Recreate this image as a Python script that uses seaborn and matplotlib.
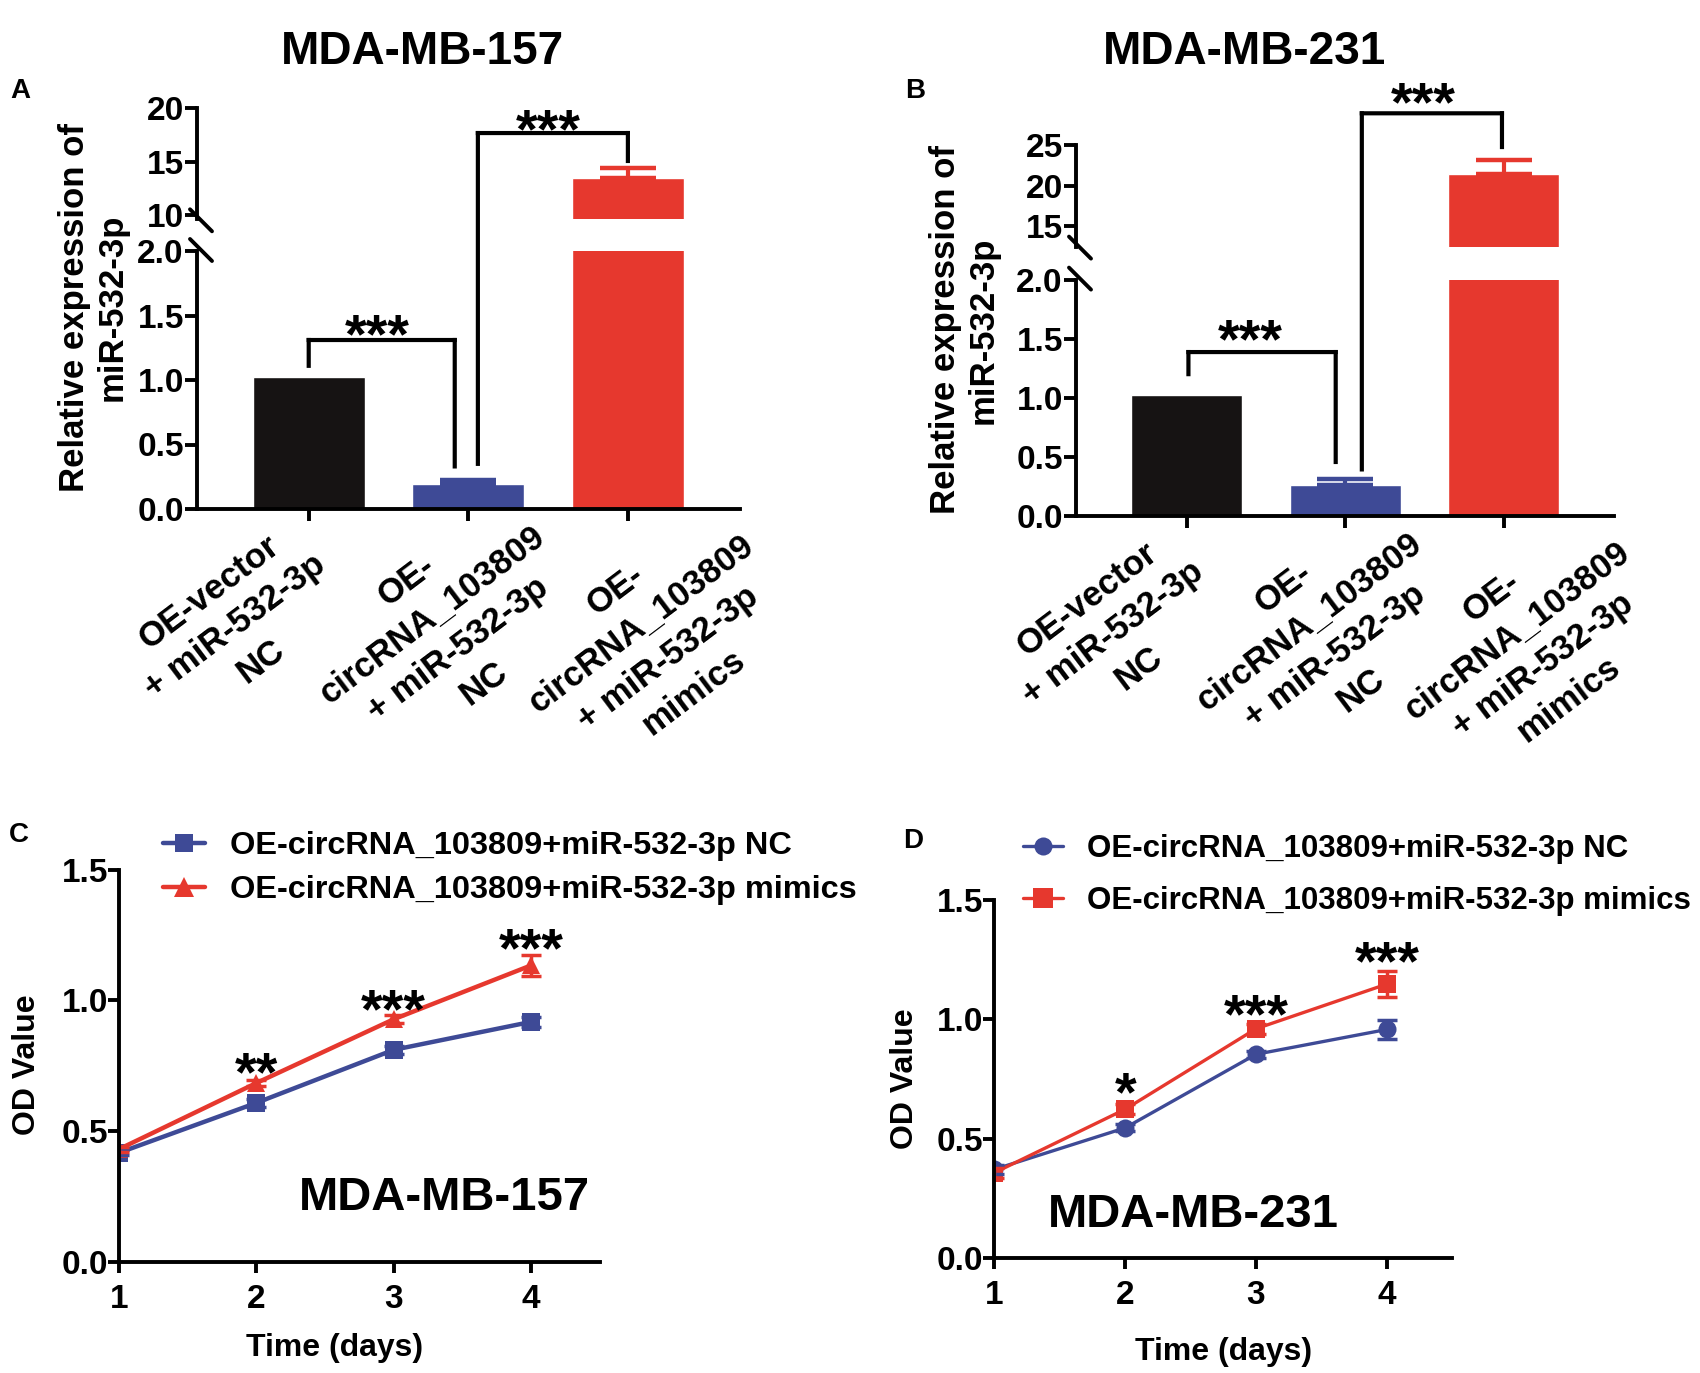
import matplotlib
matplotlib.use("Agg")
import matplotlib.pyplot as plt
import matplotlib.transforms as mtransforms
from matplotlib.lines import Line2D
from matplotlib.patches import ConnectionPatch
import pandas as pd
import seaborn as sns

# ---------------- data ----------------
groups = ["OE-vector\n+ miR-532-3p\nNC",
          "OE-\ncircRNA_103809\n+ miR-532-3p\nNC",
          "OE-\ncircRNA_103809\n+ miR-532-3p\nmimics"]
expr_157 = [1.02, 0.19, 13.5]
err_157 = [0.0, 0.035, 0.9]
expr_231 = [1.025, 0.266, 21.4]
err_231 = [0.0, 0.05, 1.8]

days = [1, 2, 3, 4]
series_labels = ["OE-circRNA_103809+miR-532-3p NC",
                 "OE-circRNA_103809+miR-532-3p mimics"]
od157_nc = [0.416, 0.607, 0.81, 0.917]
od157_nc_err = [0.01, 0.015, 0.015, 0.02]
od157_mim = [0.43, 0.683, 0.927, 1.133]
od157_mim_err = [0.01, 0.01, 0.015, 0.04]
od231_nc = [0.371, 0.545, 0.853, 0.957]
od231_nc_err = [0.02, 0.015, 0.015, 0.04]
od231_mim = [0.357, 0.623, 0.96, 1.147]
od231_mim_err = [0.02, 0.02, 0.02, 0.055]
stars_157 = ["**", "***", "***"]
stars_157_y = [0.757, 0.995, 1.23]
stars_231 = ["*", "***", "***"]
stars_231_y = [0.727, 1.054, 1.276]

# ---------------- style ----------------
sns.set_theme(style="ticks", rc={
    "axes.edgecolor": "black", "xtick.color": "black", "ytick.color": "black",
    "text.color": "black", "axes.labelcolor": "black"})
plt.rcParams["font.family"] = ["Liberation Sans", "DejaVu Sans"]
plt.rcParams["font.weight"] = "bold"

BLACK = "#161313"
BLUE = "#3e4a96"
RED = "#e6382e"
bar_colors = [BLACK, BLUE, RED]
LW = 2.8
TICKFS = 24
CATFS = 25
STARFS = 40

W, H = 1700, 1373
fig = plt.figure(figsize=(W / 100, H / 100), dpi=100)

# per-label pixel shifts (right, up) of the rotated category labels
cat_shifts = [(-23, 7), (37, 35), (87, 26)]


def fx(x):
    return x / W


def fy(y):
    return 1 - y / H


def add_ax(l, t, r, b):
    return fig.add_axes([l / W, 1 - b / H, (r - l) / W, (b - t) / H])


def cap_text(x, y, s, fs, transform, **kw):
    # place text so that the visual centre of capital letters sits at (x, y)
    fig.text(x, y, s, fontsize=fs, fontweight="bold", ha="center", va="baseline",
             transform=transform + mtransforms.ScaledTranslation(0, -0.358 * fs / 72, fig.dpi_scale_trans), **kw)


def stars(ax, x, y, s):
    tr = ax.transData + mtransforms.ScaledTranslation(0, -0.47 * STARFS / 72, fig.dpi_scale_trans)
    fig.text(x, y, s, transform=tr, ha="center", va="baseline", fontsize=STARFS,
             fontweight="bold")


def slash(xc, yc, d=11):
    fig.add_artist(Line2D([fx(xc - d), fx(xc + d)], [fy(yc - d), fy(yc + d)],
                          color="black", lw=LW, transform=fig.transFigure))


def fig_line(ax_a, xa, ya, ax_b, xb, yb, lw=3):
    con = ConnectionPatch(xyA=(xa, ya), coordsA=ax_a.transData,
                          xyB=(xb, yb), coordsB=ax_b.transData,
                          color="black", lw=lw, capstyle="projecting")
    fig.add_artist(con)


def bar_panel(l, r, t_up, b_up, t_lo, b_lo, values, errs, up_lim, up_ticks):
    df = pd.DataFrame({"group": groups, "value": values})
    ax_up = add_ax(l, t_up, r, b_up)
    ax_lo = add_ax(l, t_lo, r, b_lo)
    for ax in (ax_up, ax_lo):
        sns.barplot(data=df, x="group", y="value", hue="group", palette=bar_colors,
                    saturation=1, width=0.7, errorbar=None, legend=False, ax=ax)
        for i, (v, e, c) in enumerate(zip(values, errs, bar_colors)):
            if e > 0:
                ax.errorbar([i], [v], yerr=[[0], [e]], fmt="none", ecolor=c,
                            elinewidth=3, capsize=20, capthick=3.2)
        ax.set_xlim(-0.7, 2.7)
        ax.set_xlabel("")
        ax.set_ylabel("")
        for s in ("top", "right"):
            ax.spines[s].set_visible(False)
        for s in ("left", "bottom"):
            ax.spines[s].set_linewidth(LW)
        ax.patch.set_alpha(0)
        ax.tick_params(axis="both", width=LW, length=8.5, labelsize=TICKFS, pad=1)
    ax_up.spines["bottom"].set_visible(False)
    ax_up.tick_params(axis="x", bottom=False, labelbottom=False)
    ax_up.set_ylim(*up_lim)
    ax_up.set_yticks(up_ticks)
    ax_up.set_yticklabels([str(t) for t in up_ticks])
    ax_lo.set_ylim(0, 2.0)
    ax_lo.set_yticks([0, 0.5, 1.0, 1.5, 2.0])
    ax_lo.set_yticklabels(["0.0", "0.5", "1.0", "1.5", "2.0"])
    ax_lo.set_xticks([0, 1, 2])
    ax_lo.set_xticklabels(groups, rotation=37, ha="right", va="top",
                          rotation_mode="anchor", multialignment="center",
                          linespacing=1.38, fontsize=CATFS)
    ax_lo.tick_params(axis="x", pad=0)
    for lab, (dx, dy) in zip(ax_lo.get_xticklabels(), cat_shifts):
        off = mtransforms.ScaledTranslation(dx / 100, dy / 100, fig.dpi_scale_trans)
        lab.set_transform(lab.get_transform() + off)
    # axis break marks
    slash(l + 4, b_up + 1)
    slash(l + 4, t_lo - 1)
    return ax_up, ax_lo


def bracket(ax, x1, y1b, yh, x2, y2b):
    fig_line(ax, x1, y1b, ax, x1, yh)
    fig_line(ax, x1, yh, ax, x2, yh)
    fig_line(ax, x2, yh, ax, x2, y2b)


def bracket_cross(ax_lo, ax_up, x1, yb, yh, x2, y2b):
    fig_line(ax_lo, x1, yb, ax_up, x1, yh)
    fig_line(ax_up, x1, yh, ax_up, x2, yh)
    fig_line(ax_up, x2, yh, ax_up, x2, y2b)


# ---------------- Panel A ----------------
aA_up, aA_lo = bar_panel(197, 739.6, 108, 219.3, 251, 509, expr_157, err_157,
                         (9.6, 20), [10, 15, 20])
bracket(aA_lo, 0.0, 1.11, 1.31, 0.915, 0.33)
stars(aA_lo, 0.43, 1.418, "***")
bracket_cross(aA_lo, aA_up, 1.06, 0.35, 17.66, 2.0, 15.05)
stars(aA_up, 1.5, 18.8, "***")
cap_text(fx(422), fy(47.5), "MDA-MB-157", 33, fig.transFigure)
cap_text(fx(20.5), fy(88), "A", 20, fig.transFigure)
fig.text(fx(93.5), fy(307), "Relative expression of\nmiR-532-3p", rotation=90,
         ha="center", va="center", multialignment="center", fontsize=25, fontweight="bold")

# ---------------- Panel B ----------------
aB_up, aB_lo = bar_panel(1076, 1614.4, 145, 246.6, 279.6, 516, expr_231, err_231,
                         (12.5, 25), [15, 20, 25])
bracket(aB_lo, 0.01, 1.20, 1.387, 0.94, 0.457)
stars(aB_lo, 0.40, 1.56, "***")
bracket_cross(aB_lo, aB_up, 1.105, 0.394, 28.9, 1.99, 24.75)
stars(aB_up, 1.49, 31.26, "***")
cap_text(fx(1244), fy(47.5), "MDA-MB-231", 33, fig.transFigure)
cap_text(fx(915), fy(88), "B", 20, fig.transFigure)
fig.text(fx(964.5), fy(330), "Relative expression of\nmiR-532-3p", rotation=90,
         ha="center", va="center", multialignment="center", fontsize=25, fontweight="bold")


# ---------------- line panels ----------------
def line_panel(l, t, r, b, nc, nc_err, mim, mim_err, markers, lws, ms,
               st, st_y, cell, cell_xy, legend_xy, labelspacing, legfs):
    ax = add_ax(l, t, r, b)
    df = pd.DataFrame({
        "day": days + days,
        "od": nc + mim,
        "series": [series_labels[0]] * 4 + [series_labels[1]] * 4})
    pal = {series_labels[0]: BLUE, series_labels[1]: RED}
    mk = {series_labels[0]: markers[0], series_labels[1]: markers[1]}
    sns.lineplot(data=df, x="day", y="od", hue="series", style="series",
                 palette=pal, markers=mk, dashes=False, markersize=ms,
                 markeredgewidth=0, linewidth=lws, errorbar=None, legend=False, ax=ax)
    ax.errorbar(days, nc, yerr=nc_err, fmt="none", ecolor=BLUE, elinewidth=2.5,
                capsize=7, capthick=2.5)
    ax.errorbar(days, mim, yerr=mim_err, fmt="none", ecolor=RED, elinewidth=2.5,
                capsize=7, capthick=2.5)
    ax.set_xlim(1, 4.5)
    ax.set_ylim(0, 1.5)
    ax.set_xticks(days)
    ax.set_xticklabels([str(d) for d in days])
    ax.set_yticks([0, 0.5, 1.0, 1.5])
    ax.set_yticklabels(["0.0", "0.5", "1.0", "1.5"])
    ax.set_xlabel("")
    ax.set_ylabel("")
    for s in ("top", "right"):
        ax.spines[s].set_visible(False)
    for s in ("left", "bottom"):
        ax.spines[s].set_linewidth(LW)
    ax.patch.set_alpha(0)
    ax.tick_params(axis="both", width=LW, length=8, labelsize=TICKFS)
    ax.tick_params(axis="y", pad=0)
    ax.tick_params(axis="x", pad=8)
    for d, s, y in zip(days[1:], st, st_y):
        stars(ax, d, y, s)
    cap_text(cell_xy[0], cell_xy[1], cell, 34, ax.transData)
    handles = [Line2D([], [], color=BLUE, marker=markers[0], markersize=ms,
                      markeredgewidth=0, lw=lws),
               Line2D([], [], color=RED, marker=markers[1], markersize=ms + 1,
                      markeredgewidth=0, lw=lws)]
    ax.legend(handles, series_labels, loc="center left",
              bbox_to_anchor=(fx(legend_xy[0]), fy(legend_xy[1])),
              bbox_transform=fig.transFigure, frameon=False, borderpad=0,
              borderaxespad=0, handlelength=1.28, handletextpad=0.78,
              labelspacing=labelspacing, prop={"weight": "bold", "size": legfs})
    return ax


aC = line_panel(119, 869.6, 599.5, 1261.5, od157_nc, od157_nc_err, od157_mim,
                od157_mim_err, ("s", "^"), 3.2, 13, stars_157, stars_157_y,
                "MDA-MB-157", (3.37, 0.26), (163, 868), 0.43, 23.4)
cap_text(fx(19), fy(832), "C", 20, fig.transFigure)
fig.text(fx(27), fy(1064.7), "OD Value", rotation=90, ha="center", va="center",
         fontsize=23, fontweight="bold")
fig.text(fx(335), fy(1348), "Time (days)", ha="center", va="center",
         fontsize=23, fontweight="bold")

aD = line_panel(994.4, 899.8, 1452.2, 1258, od231_nc, od231_nc_err, od231_mim,
                od231_mim_err, ("o", "s"), 2.4, 13, stars_231, stars_231_y,
                "MDA-MB-231", (2.52, 0.2), (1023, 875), 0.68, 22.5)
cap_text(fx(913), fy(838), "D", 20, fig.transFigure)
fig.text(fx(904.5), fy(1079), "OD Value", rotation=90, ha="center", va="center",
         fontsize=23, fontweight="bold")
fig.text(fx(1224), fy(1352), "Time (days)", ha="center", va="center",
         fontsize=23, fontweight="bold")

fig.savefig("out.png", dpi=100)
